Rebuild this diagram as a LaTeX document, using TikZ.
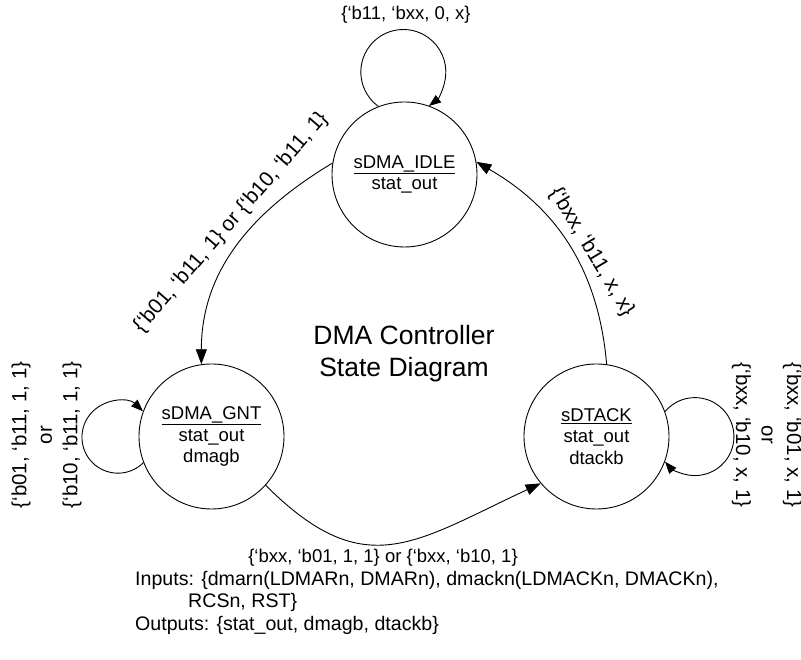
\documentclass[tikz,border=0pt]{standalone}
\usepackage{fontspec}
\setmainfont{Liberation Sans}
\usetikzlibrary{arrows.meta}
\tikzset{
  state/.style={draw, circle, line width=0.9pt, minimum size=145pt, inner sep=0pt,
    align=center, font=\fontsize{18.5}{21.5}\selectfont},
  trans/.style={line width=0.9pt, -{Triangle[length=15pt,width=11pt]}},
  selfloop/.style={line width=0.9pt, -{Triangle[length=12pt,width=9pt]}},
  cond/.style={inner sep=0pt, align=center, font=\fontsize{18.5}{22}\selectfont},
  bigcond/.style={inner sep=0pt, align=center, font=\fontsize{21}{24}\selectfont},
  sidecond/.style={inner sep=0pt, align=center, font=\fontsize{20.5}{25.5}\selectfont}
}

\begin{document}
\begin{tikzpicture}[x=1pt, y=1pt]
\useasboundingbox (0,0) rectangle (801,660);

\node[state] (idle)  at (404.5,485.5) {\underline{sDMA\_IDLE}\\stat\_out};
\node[state] (gnt)   at (211.5,223.5) {\underline{sDMA\_GNT}\\stat\_out\\dmagb};
\node[state] (dtack) at (596.5,223.5) {\underline{sDTACK}\\stat\_out\\dtackb};

\node[align=center, font=\fontsize{26.5}{32}\selectfont] (title) at (404,306)
  {DMA Controller\\State Diagram};

\draw[selfloop] (idle.111) arc[start angle=234, end angle=-53, radius=42.5];
\draw[selfloop] (gnt.201) arc[start angle=-45, end angle=-314, radius=36];
\draw[selfloop] (dtack.20) arc[start angle=140, end angle=-140, radius=39];

\draw[trans] (idle.171) to[out=211, in=90] (gnt.98);
\draw[trans] (gnt.-42) to[out=-45, in=205, looseness=1.3] (dtack.-140);
\draw[trans] (dtack.82) to[out=95, in=-30] (idle.10);

\node[cond] (idleloop) at (406,645) {\{‘b11, ‘bxx, 0, x\}};
\node[sidecond, rotate=90] (gntloop) at (46.5,225)
  {\{‘b01, ‘b11, 1, 1\}\\or\\\{‘b10, ‘b11, 1, 1\}};
\node[sidecond, rotate=-90] (dtackloop) at (767,225)
  {\{‘bxx, ‘b01, x, 1\}\\or\\\{‘bxx, ‘b10, x, 1\}};
\node[bigcond, rotate=49] (idlegnt) at (231,437.5)
  {\{‘b01, ‘b11, 1\} or \{‘b10, ‘b11, 1\}};
\node[cond] (gntdtack) at (383,102)
  {\{‘bxx, ‘b01, 1, 1\} or \{‘bxx, ‘b10, 1\}};
\node[bigcond, rotate=-59] (dtackidle) at (591.5,407.5)
  {\{‘bxx, ‘b11, x, x\}};

\node[anchor=north west, inner sep=0pt, align=left, font=\fontsize{19.6}{22.5}\selectfont] (io)
  at (135,89)
  {Inputs: \{dmarn(LDMARn, DMARn), dmackn(LDMACKn, DMACKn),\\
   \hspace*{53pt}RCSn, RST\}\\
   Outputs: \{stat\_out, dmagb, dtackb\}};
\end{tikzpicture}
\end{document}
